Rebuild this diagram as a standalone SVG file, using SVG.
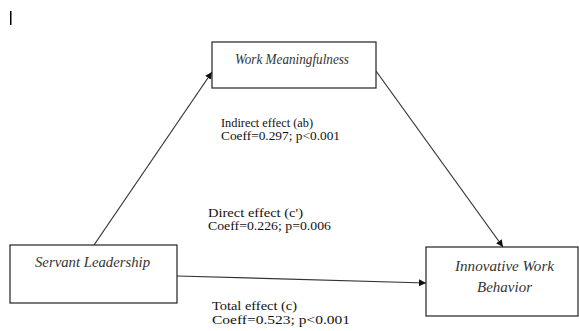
<svg xmlns="http://www.w3.org/2000/svg" width="579" height="331" viewBox="0 0 579 331">
<style>
.box{fill:#fff;stroke:#222;stroke-width:1.2}
.lbl{font-family:"Liberation Serif",serif;font-style:italic;font-size:14px;fill:#333}
.note{font-family:"Liberation Serif",serif;font-size:12px;fill:#111}
.note2{font-family:"Liberation Serif",serif;font-size:12.5px;fill:#111}
.edge{stroke:#333;stroke-width:1.2;fill:none;marker-end:url(#ah)}
</style>
<defs>
<marker id="ah" viewBox="0 0 10 10" refX="10" refY="5" markerWidth="7" markerHeight="7" markerUnits="userSpaceOnUse" orient="auto">
<path d="M0,0 L10,5 L0,10 z" fill="#111"/>
</marker>
</defs>
<rect x="10" y="11" width="1.5" height="14" fill="#000"/>
<g id="connectors">
<line class="edge" x1="94" y1="245" x2="212" y2="72"/>
<line class="edge" x1="376" y1="71" x2="503" y2="247"/>
<line class="edge" x1="177" y1="276" x2="426" y2="283"/>
</g>
<g id="work-meaningfulness">
<rect class="box" x="212" y="42" width="164" height="46"/>
<text class="lbl" x="292" y="64" text-anchor="middle" textLength="114" lengthAdjust="spacingAndGlyphs">Work Meaningfulness</text>
</g>
<g id="servant-leadership">
<rect class="box" x="10" y="245" width="167" height="58"/>
<text class="lbl" x="92.5" y="267" text-anchor="middle" textLength="115" lengthAdjust="spacingAndGlyphs">Servant Leadership</text>
</g>
<g id="innovative-work-behavior">
<rect class="box" x="426" y="247" width="152" height="69"/>
<text class="lbl" x="504.5" y="271" text-anchor="middle" textLength="99" lengthAdjust="spacingAndGlyphs">Innovative Work</text>
<text class="lbl" x="504.5" y="292" text-anchor="middle" textLength="55" lengthAdjust="spacingAndGlyphs">Behavior</text>
</g>
<g id="labels">
<text class="note" x="221" y="127" textLength="92" lengthAdjust="spacingAndGlyphs">Indirect effect (ab)</text>
<text class="note" x="221" y="140" textLength="119" lengthAdjust="spacingAndGlyphs">Coeff=0.297; p&lt;0.001</text>
<text class="note" x="208" y="217" textLength="95" lengthAdjust="spacingAndGlyphs">Direct effect (c')</text>
<text class="note" x="208" y="230" textLength="123" lengthAdjust="spacingAndGlyphs">Coeff=0.226; p=0.006</text>
<text class="note2" x="212" y="310" textLength="85" lengthAdjust="spacingAndGlyphs">Total effect (c)</text>
<text class="note2" x="212" y="324" textLength="138" lengthAdjust="spacingAndGlyphs">Coeff=0.523; p&lt;0.001</text>
</g>
</svg>
